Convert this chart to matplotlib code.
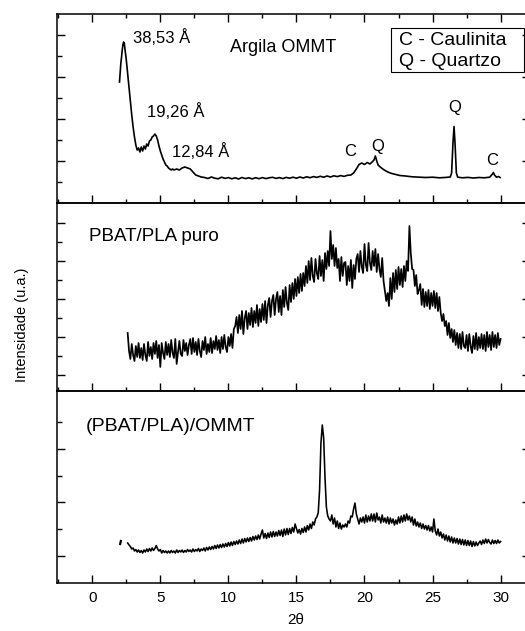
import matplotlib.pyplot as plt
from matplotlib.ticker import FixedLocator, MultipleLocator
from matplotlib.patches import Rectangle

plt.rcParams['font.family'] = ['Liberation Sans', 'DejaVu Sans']

# --- Argila OMMT: 2theta (deg) and intensity (counts) ---
tt_clay = [2.0, 2.05, 2.1, 2.15, 2.2, 2.25, 2.3, 2.35, 2.4,
           2.5, 2.6, 2.7, 2.8, 2.9, 3.0, 3.1, 3.2, 3.3, 3.4, 3.5, 3.6, 3.7, 3.8, 3.9,
           4.0, 4.1, 4.2, 4.3, 4.4, 4.5, 4.6, 4.7, 4.8, 4.9, 5.0, 5.1, 5.2, 5.3, 5.4,
           5.5, 5.6, 5.7, 5.8, 5.9, 6.0,
           6.2, 6.4, 6.6, 6.8, 7.0, 7.2, 7.4, 7.6, 7.8, 8.0,
           8.25, 8.5, 8.75, 9.0, 9.25, 9.5, 9.75, 10.0, 10.25, 10.5, 10.75, 11.0,
           11.25, 11.5, 11.75, 12.0, 12.25, 12.5, 12.75, 13.0, 13.25, 13.5, 13.75, 14.0,
           14.25, 14.5, 14.75, 15.0, 15.25, 15.5, 15.75, 16.0, 16.25, 16.5, 16.75, 17.0,
           17.25, 17.5, 17.75, 18.0, 18.25, 18.5, 18.75, 19.0,
           19.2, 19.4, 19.6, 19.8, 20.0, 20.2, 20.4, 20.6,
           20.7, 20.8, 20.9, 21.0,
           21.2, 21.4, 21.6, 21.8, 22.0,
           22.3, 22.6, 23.0, 23.5, 24.0, 24.5, 25.0, 25.5, 26.0, 26.3,
           26.4, 26.5, 26.58, 26.65, 26.75, 26.85,
           27.2, 27.6, 28.0, 28.4, 28.8, 29.2,
           29.4, 29.47, 29.55, 29.7, 29.85, 29.96]
i_clay = [1210, 1310, 1400, 1460, 1530, 1580, 1610, 1600, 1540,
          1430, 1290, 1150, 1010, 880, 760, 660, 580, 530, 550, 510, 560, 520, 570, 540,
          590, 570, 620, 630, 660, 670, 690, 670, 630, 570, 520, 480, 440, 410, 380,
          370, 350, 340, 330, 340, 330,
          340, 330, 350, 360, 350, 340, 310, 280, 270, 260,
          255, 245, 260, 248, 242, 258, 246, 254, 242, 252, 240, 255,
          244, 252, 241, 253, 243, 254, 244, 252, 257, 246, 254, 244,
          256, 248, 258, 248, 260, 250, 262, 253, 264, 256, 267, 258,
          270, 260, 272, 264, 274, 266, 277, 280,
          300, 340, 385, 400, 385, 405, 390, 415,
          430, 470, 420, 380,
          355, 335, 318, 305, 295,
          285, 275, 270, 262, 258, 255, 258, 252, 256, 260,
          300, 600, 765, 600, 300, 258,
          252, 256, 250, 255, 252, 258,
          290, 305, 280, 258, 265, 255]

# scan grid of the two blends, 0.1 deg step
tt_blend = [2.6, 2.7, 2.8, 2.9, 3.0, 3.1, 3.2, 3.3, 3.4, 3.5,
            3.6, 3.7, 3.8, 3.9, 4.0, 4.1, 4.2, 4.3, 4.4, 4.5,
            4.6, 4.7, 4.8, 4.9, 5.0, 5.1, 5.2, 5.3, 5.4, 5.5,
            5.6, 5.7, 5.8, 5.9, 6.0, 6.1, 6.2, 6.3, 6.4, 6.5,
            6.6, 6.7, 6.8, 6.9, 7.0, 7.1, 7.2, 7.3, 7.4, 7.5,
            7.6, 7.7, 7.8, 7.9, 8.0, 8.1, 8.2, 8.3, 8.4, 8.5,
            8.6, 8.7, 8.8, 8.9, 9.0, 9.1, 9.2, 9.3, 9.4, 9.5,
            9.6, 9.7, 9.8, 9.9, 10.0, 10.1, 10.2, 10.3, 10.4, 10.5,
            10.6, 10.7, 10.8, 10.9, 11.0, 11.1, 11.2, 11.3, 11.4, 11.5,
            11.6, 11.7, 11.8, 11.9, 12.0, 12.1, 12.2, 12.3, 12.4, 12.5,
            12.6, 12.7, 12.8, 12.9, 13.0, 13.1, 13.2, 13.3, 13.4, 13.5,
            13.6, 13.7, 13.8, 13.9, 14.0, 14.1, 14.2, 14.3, 14.4, 14.5,
            14.6, 14.7, 14.8, 14.9, 15.0, 15.1, 15.2, 15.3, 15.4, 15.5,
            15.6, 15.7, 15.8, 15.9, 16.0, 16.1, 16.2, 16.3, 16.4, 16.5,
            16.6, 16.7, 16.8, 16.9, 17.0, 17.1, 17.2, 17.3, 17.4, 17.5,
            17.6, 17.7, 17.8, 17.9, 18.0, 18.1, 18.2, 18.3, 18.4, 18.5,
            18.6, 18.7, 18.8, 18.9, 19.0, 19.1, 19.2, 19.3, 19.4, 19.5,
            19.6, 19.7, 19.8, 19.9, 20.0, 20.1, 20.2, 20.3, 20.4, 20.5,
            20.6, 20.7, 20.8, 20.9, 21.0, 21.1, 21.2, 21.3, 21.4, 21.5,
            21.6, 21.7, 21.8, 21.9, 22.0, 22.1, 22.2, 22.3, 22.4, 22.5,
            22.6, 22.7, 22.8, 22.9, 23.0, 23.1, 23.2, 23.3, 23.4, 23.5,
            23.6, 23.7, 23.8, 23.9, 24.0, 24.1, 24.2, 24.3, 24.4, 24.5,
            24.6, 24.7, 24.8, 24.9, 25.0, 25.1, 25.2, 25.3, 25.4, 25.5,
            25.6, 25.7, 25.8, 25.9, 26.0, 26.1, 26.2, 26.3, 26.4, 26.5,
            26.6, 26.7, 26.8, 26.9, 27.0, 27.1, 27.2, 27.3, 27.4, 27.5,
            27.6, 27.7, 27.8, 27.9, 28.0, 28.1, 28.2, 28.3, 28.4, 28.5,
            28.6, 28.7, 28.8, 28.9, 29.0, 29.1, 29.2, 29.3, 29.4, 29.5,
            29.6, 29.7, 29.8, 29.9, 30.0]

i_pure = [580, 400, 320, 470, 360, 300, 450, 340, 480, 330,
          430, 310, 470, 360, 300, 490, 350, 440, 320, 480,
          370, 500, 330, 460, 240, 480, 380, 320, 490, 360,
          470, 340, 510, 380, 330, 520, 270, 390, 500, 370,
          350, 510, 400, 480, 360, 460, 520, 370, 530, 390,
          490, 360, 520, 400, 340, 500, 410, 540, 370, 470,
          390, 530, 380, 500, 420, 550, 410, 510, 380, 540,
          420, 560, 440, 390, 540, 450, 570, 430, 620, 650,
          740, 580, 760, 620, 800, 570, 730, 800, 620, 780,
          660, 830, 640, 800, 680, 860, 650, 820, 690, 870,
          710, 900, 680, 860, 930, 740, 900, 960, 760, 920,
          990, 790, 950, 760, 1010, 840, 1040, 880, 810, 1060,
          890, 1080, 920, 1120, 950, 1140, 980, 1170, 1000, 1180,
          1050, 1250, 1080, 1300, 1110, 1330, 1150, 1090, 1320, 1180,
          1120, 1350, 1150, 1310, 1100, 1380, 1220, 1400, 1250, 1600,
          1320, 1460, 1250, 1430, 1230, 1320, 1100, 1340, 1150, 1280,
          1290, 1060, 1250, 1100, 1310, 1030, 1260, 1120, 1320, 1370,
          1190, 1400, 1240, 1180, 1470, 1260, 1200, 1480, 1280, 1210,
          1400, 1250, 1420, 1190, 1370, 1220, 1140, 1330, 1100, 1000,
          900, 980, 850, 1130, 920, 1180, 990, 1210, 1020, 1240,
          1060, 1220, 1040, 1250, 1100, 1300, 1200, 1650, 1380, 1220,
          1210, 1050, 1160, 970, 1010, 1070, 860, 1020, 840, 990,
          850, 1010, 820, 980, 850, 1000, 830, 980, 800, 940,
          780, 700, 770, 650, 700, 560, 680, 530, 620, 490,
          610, 460, 580, 430, 570, 420, 590, 450, 430, 560,
          400, 570, 450, 380, 550, 420, 580, 410, 540, 430,
          570, 420, 560, 400, 590, 440, 560, 410, 590, 440,
          560, 430, 580, 460, 520]

i_ommt = [400, 380, 365, 340, 350, 320, 335, 310, 330, 305,
          325, 300, 330, 310, 340, 315, 345, 320, 350, 325,
          345, 375, 340, 320, 335, 300, 325, 305, 320, 300,
          320, 300, 325, 305, 320, 300, 330, 305, 325, 310,
          330, 305, 325, 310, 335, 315, 330, 310, 340, 315,
          335, 320, 345, 315, 340, 325, 350, 320, 355, 330,
          360, 335, 365, 340, 375, 345, 380, 350, 385, 355,
          390, 360, 395, 365, 405, 370, 410, 375, 415, 385,
          420, 390, 430, 395, 440, 400, 445, 410, 450, 415,
          455, 420, 465, 430, 470, 435, 480, 440, 490, 530,
          450, 495, 445, 500, 455, 510, 460, 515, 465, 510,
          470, 525, 475, 530, 465, 540, 480, 545, 485, 545,
          495, 555, 510, 590, 545, 500, 535, 490, 545, 505,
          560, 510, 575, 530, 590, 545, 610, 580, 640, 660,
          700, 930, 1400, 1580, 1450, 1050, 760, 670, 640, 620,
          680, 590, 650, 560, 620, 545, 600, 540, 580, 560,
          590, 560, 620, 600, 670, 660, 740, 800, 690, 640,
          590, 650, 610, 660, 600, 680, 610, 670, 620, 690,
          620, 690, 610, 700, 630, 660, 600, 680, 610, 650,
          600, 660, 590, 650, 600, 640, 580, 630, 590, 660,
          600, 670, 610, 680, 620, 690, 630, 670, 610, 660,
          580, 640, 570, 610, 560, 600, 545, 590, 540, 575,
          530, 575, 520, 560, 510, 640, 520, 480, 540, 470,
          510, 450, 490, 430, 480, 420, 470, 410, 460, 400,
          450, 400, 445, 390, 440, 385, 435, 380, 430, 375,
          425, 375, 420, 365, 415, 370, 410, 375, 400, 420,
          385, 430, 395, 440, 400, 435, 405, 390, 430, 395,
          425, 395, 430, 400, 415]

# first stray reading of the composite scan
tt_ommt_head = [2.05, 2.1]
i_ommt_head = [390, 420]

d_labels = ["38,53 \u00c5", "19,26 \u00c5", "12,84 \u00c5"]
d_pos = [(3.0, 1650), (4.0, 910), (5.83, 510)]
phase_labels = ["C", "Q", "Q", "C"]
phase_pos = [(18.93, 513), (20.95, 563), (26.65, 957), (29.4, 423)]

W, H = 525, 631
fig = plt.figure(figsize=(W / 100, H / 100), dpi=100)
x0, x1 = 57.3, 530.0
bands = [(14, 203), (203, 391), (391, 583)]
axes = []
for top, bot in bands:
    ax = fig.add_axes([x0 / W, 1 - bot / H, (x1 - x0) / W, (bot - top) / H])
    axes.append(ax)
ax_clay, ax_pure, ax_ommt = axes

ax_clay.plot(tt_clay, i_clay, color='black', lw=1.2)
ax_pure.plot(tt_blend, i_pure, color='black', lw=1.25)
ax_ommt.plot(tt_blend, i_ommt, color='black', lw=1.15)
ax_ommt.plot(tt_ommt_head, i_ommt_head, color='black', lw=1.6)

ax_clay.set_ylim(0, 1890)
ax_pure.set_ylim(0, 1880)
ax_ommt.set_ylim(0, 1920)

ytick_major = [[420, 840, 1260, 1680], [157, 537, 917, 1297, 1677], [270, 806, 1342]]
ytick_minor = [[210, 630, 1050, 1470], [347, 727, 1107, 1487], [538, 1074, 1610]]

for k, ax in enumerate(axes):
    ax.set_xlim(-2.57, 32.16)
    ax.xaxis.set_major_locator(MultipleLocator(5))
    ax.xaxis.set_minor_locator(MultipleLocator(2.5))
    ax.yaxis.set_major_locator(FixedLocator(ytick_major[k]))
    ax.yaxis.set_minor_locator(FixedLocator(ytick_minor[k]))
    ax.tick_params(axis='both', which='both', direction='in', width=1.0,
                   top=(k == 0), bottom=True, left=True, right=True,
                   labelleft=False, labelbottom=(k == 2))
    ax.tick_params(axis='x', which='major', length=5.5, pad=6, labelsize=11)
    ax.tick_params(axis='x', which='minor', length=3)
    ax.tick_params(axis='y', which='major', length=6)
    ax.tick_params(axis='y', which='minor', length=3.5)
    for s in ax.spines.values():
        s.set_linewidth(1.1)
    ax.patch.set_alpha(0)

for txt, (xx, yy) in zip(d_labels, d_pos):
    ax_clay.text(xx, yy, txt, fontsize=12, ha='left', va='center')
for txt, (xx, yy) in zip(phase_labels, phase_pos):
    ax_clay.text(xx, yy, txt, fontsize=12, ha='center', va='center')
ax_clay.text(10.1, 1560, "Argila OMMT", fontsize=13, ha='left', va='center')

ax_clay.add_patch(Rectangle((0.705, 0.695), 0.283, 0.229, transform=ax_clay.transAxes,
                            facecolor='white', edgecolor='black', lw=0.8))
ax_clay.text(0.723, 0.862, "C - Caulinita", transform=ax_clay.transAxes,
             fontsize=14, ha='left', va='center')
ax_clay.text(0.723, 0.747, "Q - Quartzo", transform=ax_clay.transAxes,
             fontsize=14, ha='left', va='center')

ax_pure.text(-0.22, 1543, "PBAT/PLA puro", fontsize=13.5, ha='left', va='center')
ax_ommt.text(-0.46, 1563, "(PBAT/PLA)/OMMT", fontsize=14, ha='left', va='center')

fig.text(296 / W, 1 - 620 / H, "2\u03b8", fontsize=11, ha='center', va='center')
fig.text(21.7 / W, 1 - 325 / H, "Intensidade (u.a.)", fontsize=10.5,
         rotation=90, ha='center', va='center')

fig.savefig("out.png", dpi=100)
